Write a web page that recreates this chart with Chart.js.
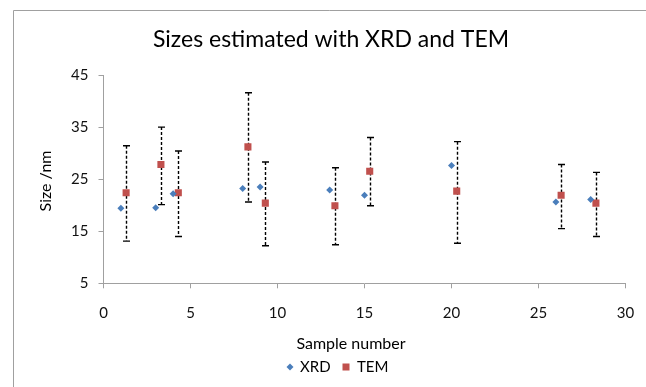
<!DOCTYPE html>
<html>
<head>
<meta charset="utf-8">
<script src="https://cdn.jsdelivr.net/npm/chart.js@4/dist/chart.umd.min.js"></script>
<style>
  html, body { margin: 0; padding: 0; background: #fff; }
  #wrap { width: 646px; height: 387px; position: relative; }
</style>
</head>
<body>
<div id="wrap"><canvas id="c" width="646" height="387"></canvas></div>
<script>
// Sample numbers and particle sizes (nm)
const xrdSamples = [1, 3, 4, 8, 9, 13, 15, 20, 26, 28];
const xrdSizes   = [19.4, 19.5, 22.2, 23.2, 23.5, 22.9, 21.9, 27.6, 20.6, 21.1];

const temSamples = [1.3, 3.3, 4.3, 8.3, 9.3, 13.3, 15.3, 20.3, 26.3, 28.3];
const temSizes   = [22.4, 27.8, 22.4, 31.2, 20.4, 19.9, 26.5, 22.7, 21.9, 20.4];
const temLow     = [13.1, 20.1, 14.0, 20.6, 12.2, 12.4, 19.9, 12.7, 15.5, 14.0];
const temHigh    = [31.4, 35.0, 30.4, 41.6, 28.3, 27.2, 33.0, 32.2, 27.8, 26.3];

const xTicks = [0, 5, 10, 15, 20, 25, 30];
const yTicks = [5, 15, 25, 35, 45];

const chartTitle = 'Sizes estimated with XRD and TEM';
const xTitle = 'Sample number';
const yTitle = 'Size /nm';
const seriesNames = ['XRD', 'TEM'];

const BLUE = '#4A7EBB';
const RED = '#C0504D';
const AXIS = '#a0a0a0';
const FONT = 'Lato, "Open Sans", sans-serif';

const toPoints = (xs, ys) => xs.map((x, i) => ({ x: x, y: ys[i] }));

// Vertical dashed error bars with solid caps for the TEM series
const errorBars = {
  id: 'errorBars',
  beforeDatasetsDraw(chart) {
    const ctx = chart.ctx;
    const xs = chart.scales.x, ys = chart.scales.y;
    ctx.save();
    ctx.strokeStyle = '#000';
    ctx.lineWidth = 1.4;
    temSamples.forEach((s, i) => {
      const px = Math.round(xs.getPixelForValue(s)) + 0.5;
      const top = ys.getPixelForValue(temHigh[i]);
      const bot = ys.getPixelForValue(temLow[i]);
      ctx.setLineDash([3, 2]);
      ctx.beginPath();
      ctx.moveTo(px, top);
      ctx.lineTo(px, bot);
      ctx.stroke();
      ctx.setLineDash([]);
      ctx.beginPath();
      ctx.moveTo(px - 3.5, top); ctx.lineTo(px + 3.5, top);
      ctx.moveTo(px - 3.5, bot); ctx.lineTo(px + 3.5, bot);
      ctx.stroke();
    });
    ctx.restore();
  }
};

// Frame, title, axis titles and legend
const frameText = {
  id: 'frameText',
  beforeDraw(chart) {
    const ctx = chart.ctx;
    ctx.save();
    ctx.fillStyle = '#fff';
    ctx.fillRect(0, 0, chart.width, chart.height);
    ctx.strokeStyle = AXIS;
    ctx.lineWidth = 1;
    ctx.beginPath();
    ctx.moveTo(13.5, chart.height);
    ctx.lineTo(13.5, 10.5);
    ctx.lineTo(chart.width, 10.5);
    ctx.stroke();
    ctx.restore();
  },
  afterDraw(chart) {
    const ctx = chart.ctx;
    ctx.save();
    ctx.fillStyle = '#000';
    ctx.textAlign = 'center';
    ctx.textBaseline = 'alphabetic';
    ctx.font = '23px ' + FONT;
    ctx.fillText(chartTitle, 331, 47);

    ctx.textBaseline = 'middle';
    ctx.font = '16px ' + FONT;
    ctx.fillText(xTitle, 351, 344);

    ctx.save();
    ctx.translate(46, 181);
    ctx.rotate(-Math.PI / 2);
    ctx.fillText(yTitle, 0, 0);
    ctx.restore();

    // legend
    ctx.font = '15px ' + FONT;
    ctx.textAlign = 'left';
    const ly = 367;
    ctx.fillStyle = BLUE;
    ctx.beginPath();
    ctx.moveTo(290, ly - 3.5); ctx.lineTo(293.5, ly); ctx.lineTo(290, ly + 3.5); ctx.lineTo(286.5, ly);
    ctx.closePath();
    ctx.fill();
    ctx.fillStyle = '#000';
    ctx.fillText(seriesNames[0], 300, ly);
    ctx.fillStyle = RED;
    ctx.fillRect(342.5, ly - 3.5, 7, 7);
    ctx.fillStyle = '#000';
    ctx.fillText(seriesNames[1], 357, ly);
    ctx.restore();
  }
};

new Chart(document.getElementById('c'), {
  type: 'scatter',
  data: {
    datasets: [
      {
        label: seriesNames[0],
        data: toPoints(xrdSamples, xrdSizes),
        pointStyle: 'rectRot',
        pointRadius: 3.5,
        pointHoverRadius: 3.5,
        backgroundColor: BLUE,
        borderColor: BLUE,
        borderWidth: 0
      },
      {
        label: seriesNames[1],
        data: toPoints(temSamples, temSizes),
        pointStyle: 'rect',
        pointRadius: 5,
        pointHoverRadius: 5,
        backgroundColor: RED,
        borderColor: RED,
        borderWidth: 0
      }
    ]
  },
  options: {
    responsive: false,
    animation: false,
    events: [],
    layout: { padding: { left: 13, top: 75, right: 20.5, bottom: 63.7 } },
    plugins: {
      legend: { display: false },
      title: { display: false },
      tooltip: { enabled: false }
    },
    scales: {
      x: {
        type: 'linear',
        min: 0,
        max: 30,
        afterFit(s) { s.height = 40; s.paddingLeft = 0; s.paddingRight = 0; },
        afterBuildTicks(s) { s.ticks = xTicks.map(v => ({ value: v })); },
        ticks: { font: { family: FONT, size: 15 }, color: '#111', padding: 16, maxRotation: 0 },
        grid: { drawOnChartArea: false, drawTicks: true, tickLength: 5, color: AXIS },
        border: { display: true, color: AXIS, width: 1 }
      },
      y: {
        type: 'linear',
        min: 5,
        max: 45,
        afterFit(s) { s.width = 90.5; s.paddingTop = 0; s.paddingBottom = 0; },
        afterBuildTicks(s) { s.ticks = yTicks.map(v => ({ value: v })); },
        ticks: { font: { family: FONT, size: 15 }, color: '#111', padding: 10 },
        grid: { drawOnChartArea: false, drawTicks: true, tickLength: 5, color: AXIS },
        border: { display: true, color: AXIS, width: 1 }
      }
    }
  },
  plugins: [frameText, errorBars]
});
</script>
</body>
</html>
